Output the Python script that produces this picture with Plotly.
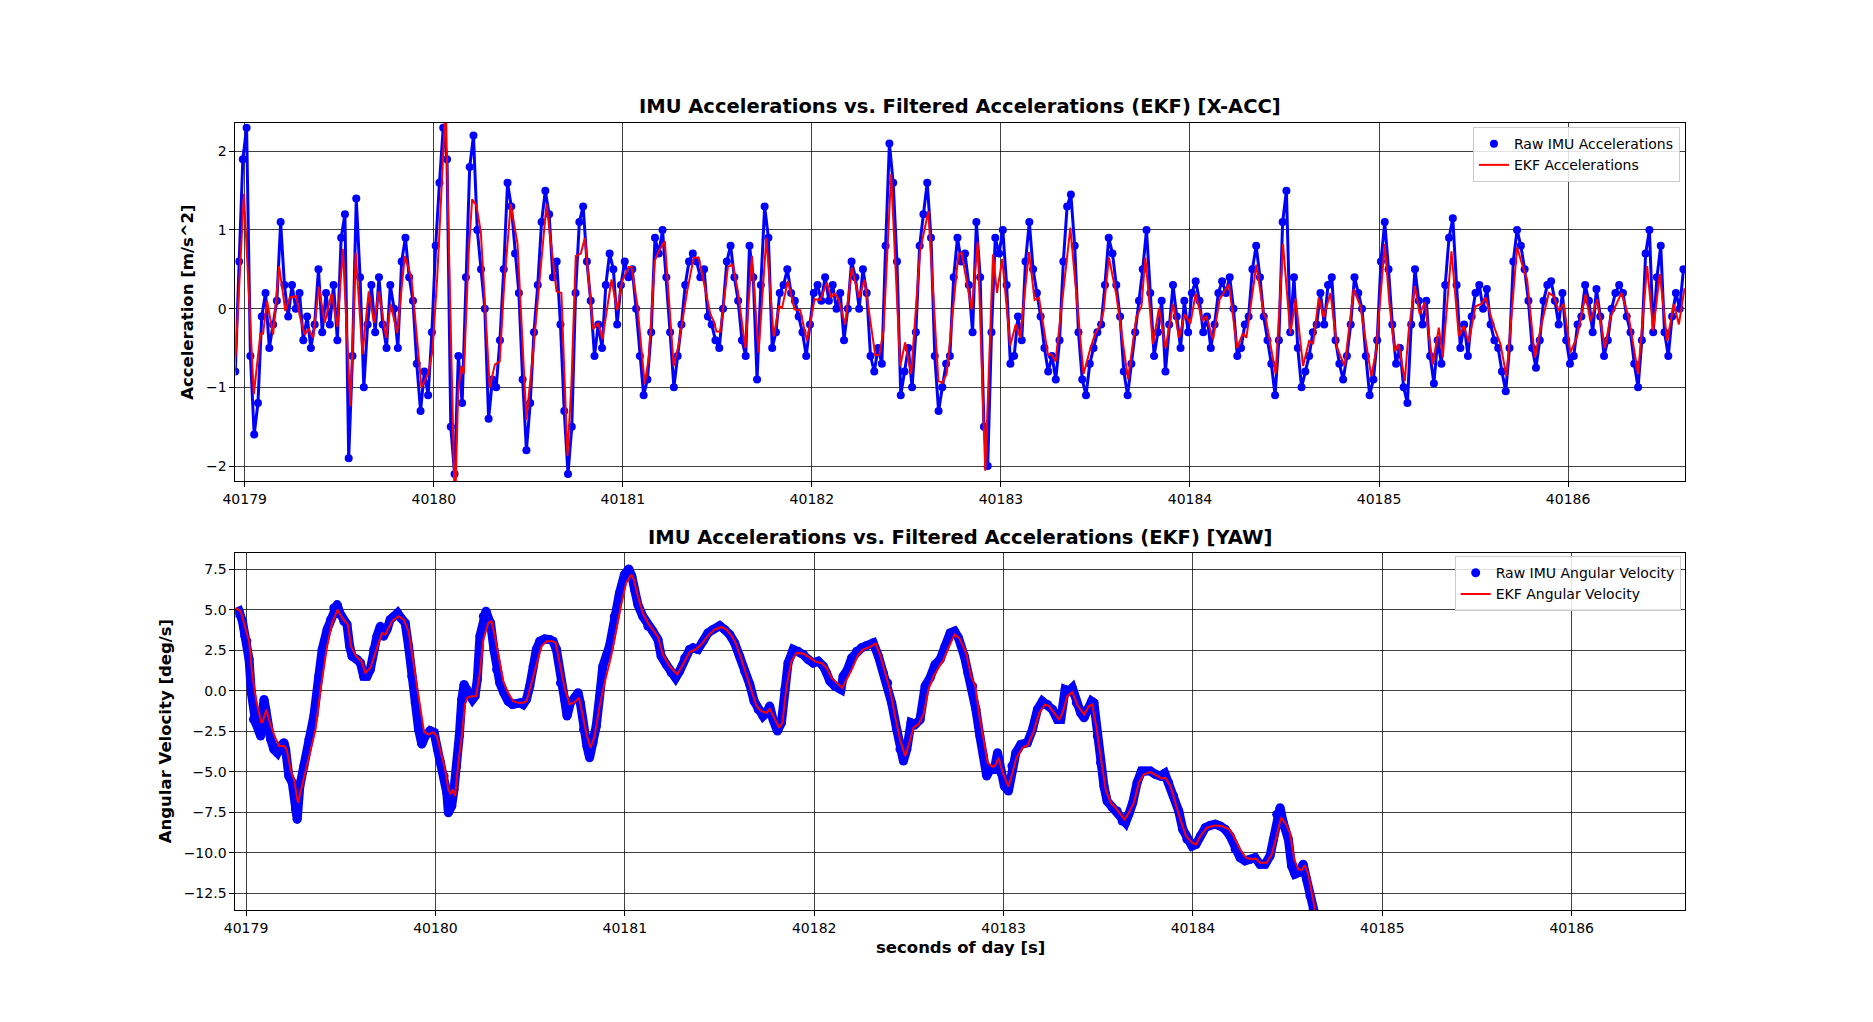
import numpy as np
import plotly.graph_objects as go

# ---- X-ACC panel ----
# raw IMU x-acceleration, sampled every 0.02 s starting at acc_raw_t0
acc_raw_t0 = 40178.95
acc_raw_dt = 0.02
acc_raw = [
    -0.8, 0.6, 1.9, 2.3, -0.6, -1.6, -1.2, -0.1, 0.2, -0.5,
    -0.2, 0.1, 1.1, 0.3, -0.1, 0.3, 0.0, 0.2, -0.4, -0.1,
    -0.5, -0.2, 0.5, -0.3, 0.2, -0.2, 0.3, -0.4, 0.9, 1.2,
    -1.9, -0.6, 1.4, 0.4, -1.0, -0.2, 0.3, -0.3, 0.4, -0.2,
    -0.5, 0.3, 0.0, -0.5, 0.6, 0.9, 0.4, 0.1, -0.7, -1.3,
    -0.8, -1.1, -0.3, 0.8, 1.6, 2.3, 1.9, -1.5, -2.1, -0.6,
    -1.2, 0.4, 1.8, 2.2, 1.0, 0.5, 0.0, -1.4, -0.9, -1.0,
    -0.4, 0.5, 1.6, 1.3, 0.7, 0.2, -0.9, -1.8, -1.2, -0.3,
    0.3, 1.1, 1.5, 1.2, 0.4, 0.6, -0.2, -1.3, -2.1, -1.5,
    0.2, 1.1, 1.3, 0.6, 0.1, -0.6, -0.2, -0.5, 0.3, 0.7,
    0.5, -0.2, 0.3, 0.6, 0.4, 0.5, 0.0, -0.6, -1.1, -0.9,
    -0.3, 0.9, 0.7, 1.0, 0.4, -0.3, -1.0, -0.6, -0.2, 0.3,
    0.6, 0.7, 0.6, 0.4, 0.5, -0.1, -0.2, -0.4, -0.5, 0.0,
    0.6, 0.8, 0.4, 0.1, -0.4, -0.6, 0.8, 0.4, -0.9, 0.3,
    1.3, 0.9, -0.5, -0.3, 0.2, 0.3, 0.5, 0.2, 0.1, -0.1,
    -0.3, -0.6, -0.2, 0.2, 0.3, 0.1, 0.4, 0.1, 0.3, 0.0,
    0.2, -0.4, 0.0, 0.6, 0.4, 0.0, 0.5, 0.2, -0.6, -0.8,
    -0.5, -0.7, 0.8, 2.1, 1.6, 0.6, -1.1, -0.8, -0.5, -1.0,
    -0.3, 0.8, 1.2, 1.6, 0.9, -0.6, -1.3, -1.0, -0.7, -0.6,
    0.4, 0.9, 0.6, 0.7, 0.3, -0.3, 1.1, 0.4, -1.5, -2.0,
    -0.3, 0.9, 0.7, 1.0, 0.3, -0.7, -0.6, -0.1, -0.4, 0.6,
    1.1, 0.5, 0.2, -0.1, -0.5, -0.8, -0.6, -0.9, -0.4, 0.6,
    1.3, 1.45, 0.8, -0.3, -0.9, -1.1, -0.7, -0.5, -0.3, -0.2,
    0.3, 0.9, 0.7, 0.3, -0.1, -0.8, -1.1, -0.7, -0.3, 0.1,
    0.5, 1.0, 0.2, -0.6, -0.3, 0.1, -0.8, -0.2, 0.3, -0.1,
    -0.5, 0.1, -0.3, 0.2, 0.35, 0.1, -0.3, -0.1, -0.5, -0.2,
    0.2, 0.35, 0.2, 0.4, 0.0, -0.6, -0.5, -0.2, -0.1, 0.5,
    0.8, 0.4, -0.1, -0.4, -0.7, -1.1, -0.4, 1.1, 1.5, -0.3,
    0.4, -0.5, -1.0, -0.8, -0.6, -0.3, -0.2, 0.2, -0.2, 0.3,
    0.4, -0.4, -0.7, -0.9, -0.6, -0.2, 0.4, 0.2, 0.0, -0.6,
    -1.1, -0.9, -0.4, 0.6, 1.1, 0.5, -0.2, -0.7, -0.5, -1.0,
    -1.2, -0.2, 0.5, 0.1, -0.2, 0.1, -0.6, -0.95, -0.4, -0.7,
    0.3, 0.9, 1.15, 0.3, -0.5, -0.2, -0.6, -0.1, 0.2, 0.3,
    0.0, 0.25, -0.2, -0.4, -0.5, -0.8, -1.05, -0.5, 0.6, 1.0,
    0.8, 0.5, 0.1, -0.5, -0.75, -0.4, 0.1, 0.3, 0.35, 0.1,
    -0.2, 0.2, -0.4, -0.7, -0.6, -0.2, -0.1, 0.3, 0.1, -0.3,
    0.25, -0.1, -0.6, -0.4, 0.0, 0.2, 0.3, 0.2, -0.1, -0.3,
    -0.7, -1.0, -0.4, 0.7, 1.0, -0.3, 0.4, 0.8, -0.3, -0.6,
    -0.1, 0.2, 0.0, 0.5,
]

# EKF filtered x-acceleration (time, value)
acc_ekf_t = [
    40178.951, 40178.996, 40179.048, 40179.083, 40179.097, 40179.118, 40179.150, 40179.182, 40179.215, 40179.238,
    40179.273, 40179.291, 40179.317, 40179.339, 40179.362, 40179.392, 40179.423, 40179.459, 40179.490, 40179.519,
    40179.559, 40179.587, 40179.623, 40179.656, 40179.684, 40179.709, 40179.748, 40179.772, 40179.806, 40179.847,
    40179.882, 40179.935, 40179.970, 40179.993, 40180.018, 40180.063, 40180.112, 40180.129, 40180.146, 40180.159,
    40180.185, 40180.203, 40180.226, 40180.249, 40180.296, 40180.323, 40180.349, 40180.372, 40180.407, 40180.443,
    40180.490, 40180.526, 40180.596, 40180.649, 40180.675, 40180.707, 40180.728, 40180.751, 40180.778, 40180.799,
    40180.843, 40180.869, 40180.892, 40180.940, 40180.970, 40180.996, 40181.032, 40181.046, 40181.076, 40181.116,
    40181.137, 40181.169, 40181.190, 40181.222, 40181.269, 40181.296, 40181.340, 40181.375, 40181.401, 40181.437,
    40181.463, 40181.481, 40181.495, 40181.516, 40181.556, 40181.581, 40181.609, 40181.648, 40181.683, 40181.718,
    40181.759, 40181.798, 40181.827, 40181.842, 40181.873, 40181.908, 40181.938, 40181.974, 40182.014, 40182.044,
    40182.079, 40182.102, 40182.120, 40182.141, 40182.176, 40182.211, 40182.250, 40182.278, 40182.335, 40182.356,
    40182.379, 40182.419, 40182.467, 40182.493, 40182.525, 40182.572, 40182.616, 40182.669, 40182.690, 40182.713,
    40182.775, 40182.792, 40182.845, 40182.877, 40182.917, 40182.958, 40182.979, 40183.007, 40183.049, 40183.078,
    40183.102, 40183.148, 40183.178, 40183.201, 40183.249, 40183.266, 40183.289, 40183.367, 40183.399, 40183.437,
    40183.469, 40183.496, 40183.522, 40183.543, 40183.571, 40183.610, 40183.672, 40183.716, 40183.743, 40183.764,
    40183.804, 40183.836, 40183.871, 40183.910, 40183.942, 40183.972, 40184.002, 40184.030, 40184.065, 40184.086,
    40184.122, 40184.157, 40184.206, 40184.249, 40184.280, 40184.298, 40184.351, 40184.390, 40184.400, 40184.453,
    40184.492, 40184.531, 40184.559, 40184.598, 40184.630, 40184.651, 40184.681, 40184.707, 40184.743, 40184.778,
    40184.818, 40184.866, 40184.901, 40184.959, 40184.984, 40185.030, 40185.055, 40185.083, 40185.104, 40185.136,
    40185.157, 40185.189, 40185.215, 40185.242, 40185.284, 40185.316, 40185.337, 40185.383, 40185.422, 40185.448,
    40185.474, 40185.510, 40185.541, 40185.563, 40185.607, 40185.642, 40185.674, 40185.730, 40185.757, 40185.783,
    40185.824, 40185.859, 40185.898, 40185.924, 40185.951, 40185.977, 40186.012, 40186.048, 40186.092, 40186.118,
    40186.153, 40186.194, 40186.224, 40186.282, 40186.321, 40186.370, 40186.418, 40186.450, 40186.485, 40186.524,
    40186.559, 40186.586, 40186.616,
]
acc_ekf = [
    -0.62, 1.46, -1.09, -0.32, -0.32, 0.10, -0.33, 0.54, -0.03, 0.14,
    0.16, -0.09, -0.33, -0.26, -0.37, 0.28, -0.18, 0.19, -0.23, 0.76,
    -1.24, 0.71, -0.58, 0.22, -0.18, 0.22, -0.37, 0.06, -0.31, 0.67,
    0.39, -1.00, -0.83, -0.54, 0.39, 2.60, -2.60, -1.05, -0.73, -0.83,
    0.73, 1.39, 1.31, 0.97, -1.00, -0.71, -0.67, 0.29, 1.33, 0.82,
    -1.41, -0.54, 1.33, 0.22, 0.20, -1.87, -0.96, 0.67, 0.70, 0.90,
    -0.26, -0.18, -0.39, 0.37, -0.02, 0.35, 0.53, 0.53, 0.06, -0.96,
    -0.62, 0.61, 0.73, 0.86, -0.73, -0.45, 0.22, 0.65, 0.65, 0.22,
    -0.07, -0.16, -0.29, -0.29, 0.53, 0.56, 0.22, -0.50, 0.67, -0.56,
    0.90, -0.35, 0.03, 0.01, 0.35, -0.01, -0.02, -0.41, 0.12, 0.11,
    0.33, 0.14, 0.19, 0.12, -0.20, 0.52, 0.14, 0.37, -0.59, -0.59,
    -0.28, 1.71, -0.73, -0.43, -0.83, 0.73, 1.24, -0.92, -0.94, -0.83,
    0.69, 0.71, -0.01, 0.85, -2.06, 0.69, 0.20, 0.63, -0.47, -0.20,
    -0.37, 0.72, 0.11, 0.14, -0.59, -0.58, -0.67, 1.03, 0.14, -0.83,
    -0.54, -0.33, -0.22, -0.03, 0.65, 0.18, -0.90, -0.11, 0.03, 0.65,
    -0.45, 0.01, -0.50, 0.06, -0.37, -0.07, -0.19, 0.19, -0.16, -0.09,
    -0.39, 0.12, 0.31, -0.50, -0.31, -0.37, 0.56, -0.07, -0.11, -0.83,
    0.82, -0.32, 0.13, -0.73, -0.41, -0.45, 0.14, -0.11, 0.20, -0.50,
    -0.73, 0.25, 0.03, -0.86, -0.54, 0.82, 0.06, -0.54, -0.45, -0.92,
    -0.28, 0.29, -0.07, 0.08, -0.71, -0.24, -0.62, 0.73, -0.35, -0.22,
    -0.43, 0.03, 0.06, 0.14, -0.22, -0.45, -0.86, 0.78, 0.56, 0.37,
    -0.62, -0.20, 0.20, 0.16, -0.03, 0.06, -0.56, -0.35, 0.18, -0.16,
    0.12, -0.50, -0.11, 0.20, -0.11, -0.83, 0.54, -0.28, 0.44, -0.41,
    0.06, -0.20, 0.26,
]

# ---- YAW panel ----
yaw_raw_t = [
    40178.944, 40178.963, 40178.981, 40178.993, 40179.004, 40179.016, 40179.028, 40179.039, 40179.051, 40179.068,
    40179.077, 40179.086, 40179.095, 40179.104, 40179.116, 40179.130, 40179.147, 40179.165, 40179.182, 40179.200,
    40179.209, 40179.226, 40179.244, 40179.261, 40179.270, 40179.284, 40179.305, 40179.332, 40179.358, 40179.384,
    40179.402, 40179.428, 40179.446, 40179.463, 40179.481, 40179.495, 40179.516, 40179.533, 40179.547, 40179.560,
    40179.586, 40179.604, 40179.621, 40179.639, 40179.656, 40179.674, 40179.691, 40179.709, 40179.726, 40179.744,
    40179.761, 40179.782, 40179.800, 40179.818, 40179.840, 40179.858, 40179.875, 40179.893, 40179.911, 40179.928,
    40179.946, 40179.972, 40179.993, 40180.011, 40180.028, 40180.046, 40180.060, 40180.068, 40180.086, 40180.098,
    40180.112, 40180.126, 40180.139, 40180.151, 40180.165, 40180.182, 40180.196, 40180.209, 40180.221, 40180.235,
    40180.253, 40180.267, 40180.279, 40180.291, 40180.309, 40180.323, 40180.340, 40180.361, 40180.384, 40180.407,
    40180.428, 40180.449, 40180.463, 40180.481, 40180.498, 40180.516, 40180.533, 40180.551, 40180.577, 40180.604,
    40180.621, 40180.639, 40180.660, 40180.682, 40180.695, 40180.712, 40180.735, 40180.753, 40180.765, 40180.782,
    40180.800, 40180.814, 40180.832, 40180.849, 40180.867, 40180.884, 40180.919, 40180.945, 40180.972, 40180.998,
    40181.021, 40181.037, 40181.051, 40181.069, 40181.095, 40181.122, 40181.148, 40181.175, 40181.192, 40181.219,
    40181.245, 40181.268, 40181.289, 40181.316, 40181.342, 40181.360, 40181.386, 40181.413, 40181.439, 40181.466,
    40181.501, 40181.527, 40181.554, 40181.580, 40181.607, 40181.633, 40181.660, 40181.683, 40181.704, 40181.730,
    40181.748, 40181.765, 40181.783, 40181.806, 40181.827, 40181.845, 40181.862, 40181.889, 40181.915, 40181.942,
    40181.968, 40181.995, 40182.021, 40182.048, 40182.065, 40182.083, 40182.109, 40182.141, 40182.153, 40182.176,
    40182.198, 40182.224, 40182.250, 40182.277, 40182.312, 40182.339, 40182.365, 40182.388, 40182.409, 40182.436,
    40182.453, 40182.471, 40182.489, 40182.511, 40182.533, 40182.559, 40182.586, 40182.612, 40182.638, 40182.665,
    40182.691, 40182.718, 40182.741, 40182.762, 40182.793, 40182.811, 40182.837, 40182.854, 40182.875, 40182.893,
    40182.911, 40182.928, 40182.951, 40182.968, 40182.986, 40183.004, 40183.026, 40183.044, 40183.065, 40183.091,
    40183.126, 40183.153, 40183.179, 40183.205, 40183.232, 40183.258, 40183.284, 40183.302, 40183.325, 40183.346,
    40183.363, 40183.384, 40183.407, 40183.425, 40183.442, 40183.465, 40183.477, 40183.495, 40183.512, 40183.530,
    40183.547, 40183.574, 40183.600, 40183.626, 40183.644, 40183.661, 40183.682, 40183.705, 40183.728, 40183.749,
    40183.775, 40183.802, 40183.828, 40183.851, 40183.872, 40183.898, 40183.925, 40183.946, 40183.968, 40183.995,
    40184.016, 40184.039, 40184.065, 40184.091, 40184.118, 40184.144, 40184.170, 40184.196, 40184.223, 40184.249,
    40184.275, 40184.302, 40184.328, 40184.354, 40184.381, 40184.407, 40184.425, 40184.442, 40184.460, 40184.477,
    40184.504, 40184.521, 40184.539, 40184.560, 40184.582, 40184.600, 40184.618, 40184.635, 40184.652,
]
yaw_raw = [
    4.80, 4.91, 4.29, 3.39, 3.08, 1.93, -0.12, -1.77, -1.97, -2.49,
    -2.79, -1.36, -0.53, -1.15, -2.38, -2.99, -3.61, -3.82, -3.41, -3.20,
    -3.61, -5.26, -5.67, -7.31, -7.93, -5.87, -4.64, -2.98, -1.56, 0.90,
    2.55, 3.78, 4.39, 5.11, 5.32, 4.80, 4.29, 4.09, 2.75, 2.14,
    1.93, 1.72, 0.90, 0.90, 1.31, 2.55, 3.37, 3.98, 3.37, 3.78,
    4.39, 4.60, 4.80, 4.49, 4.19, 2.75, 0.90, -0.74, -2.38, -3.29,
    -2.79, -2.46, -2.57, -3.61, -4.43, -5.26, -6.28, -7.52, -7.10, -6.08,
    -4.64, -2.79, -0.53, 0.39, 0.08, -0.33, -0.53, -0.33, 0.70, 3.37,
    4.60, 4.91, 4.49, 4.19, 2.55, 1.31, 0.49, -0.12, -0.64, -0.84,
    -0.78, -0.74, -0.84, -0.53, 0.29, 1.52, 2.55, 3.06, 3.20, 3.16,
    3.06, 2.55, 0.49, -0.53, -1.56, -0.74, -0.43, -0.12, -0.74, -2.38,
    -3.41, -4.13, -3.20, -2.18, -0.33, 1.52, 2.75, 4.60, 6.04, 7.17,
    7.52, 7.06, 6.24, 5.32, 4.60, 3.98, 3.68, 3.16, 2.14, 1.62,
    1.11, 0.80, 1.21, 2.03, 2.55, 2.65, 2.55, 3.06, 3.57, 3.78,
    4.02, 3.78, 3.47, 2.96, 2.14, 1.21, 0.39, -0.64, -1.15, -1.56,
    -1.36, -0.94, -1.77, -2.48, -1.97, 0.08, 1.72, 2.55, 2.44, 2.24,
    1.93, 1.72, 1.83, 1.52, 1.11, 0.60, 0.29, 0.08, 0.90, 1.31,
    2.03, 2.44, 2.65, 2.79, 2.96, 2.14, 1.11, 0.49, -0.74, -2.38,
    -3.61, -4.33, -3.61, -1.97, -2.07, -1.77, 0.29, 0.80, 1.62, 1.93,
    2.75, 3.57, 3.68, 3.27, 2.14, 1.11, 0.29, -1.15, -2.79, -4.02,
    -5.26, -4.85, -4.85, -3.82, -5.05, -5.87, -6.18, -4.64, -3.82, -3.31,
    -3.20, -2.38, -1.15, -0.64, -0.84, -1.15, -1.77, -1.77, 0.08, -0.02,
    0.18, -0.74, -1.36, -1.66, -1.15, -0.64, -0.74, -2.79, -4.43, -5.87,
    -6.80, -7.21, -7.41, -8.03, -8.13, -7.62, -6.90, -5.67, -4.95, -4.95,
    -4.95, -5.15, -5.26, -5.09, -5.67, -6.49, -7.41, -8.54, -9.16, -9.57,
    -9.47, -8.95, -8.44, -8.30, -8.23, -8.34, -8.54, -8.95, -9.77, -10.29,
    -10.49, -10.39, -10.29, -10.70, -10.70, -10.18, -9.16, -7.62, -7.21, -8.13,
    -9.16, -10.80, -11.31, -11.21, -10.70, -11.62, -12.65, -13.47, -14.20,
]

yaw_ekf_t = [
    40178.944, 40178.972, 40178.998, 40179.016, 40179.033, 40179.056, 40179.081, 40179.089, 40179.107, 40179.126,
    40179.147, 40179.174, 40179.200, 40179.214, 40179.235, 40179.253, 40179.274, 40179.296, 40179.332, 40179.367,
    40179.393, 40179.428, 40179.454, 40179.484, 40179.507, 40179.537, 40179.554, 40179.581, 40179.609, 40179.630,
    40179.656, 40179.682, 40179.718, 40179.735, 40179.770, 40179.805, 40179.832, 40179.858, 40179.888, 40179.916,
    40179.940, 40179.963, 40179.989, 40180.007, 40180.028, 40180.051, 40180.068, 40180.081, 40180.091, 40180.104,
    40180.121, 40180.139, 40180.156, 40180.168, 40180.191, 40180.214, 40180.232, 40180.253, 40180.279, 40180.296,
    40180.314, 40180.337, 40180.358, 40180.384, 40180.411, 40180.437, 40180.463, 40180.481, 40180.507, 40180.533,
    40180.560, 40180.586, 40180.618, 40180.635, 40180.656, 40180.682, 40180.709, 40180.735, 40180.758, 40180.779,
    40180.800, 40180.819, 40180.840, 40180.867, 40180.893, 40180.928, 40180.954, 40180.981, 40181.007, 40181.034,
    40181.048, 40181.069, 40181.095, 40181.122, 40181.148, 40181.175, 40181.201, 40181.236, 40181.277, 40181.307,
    40181.342, 40181.377, 40181.404, 40181.439, 40181.474, 40181.510, 40181.536, 40181.563, 40181.589, 40181.616,
    40181.642, 40181.668, 40181.695, 40181.721, 40181.748, 40181.765, 40181.792, 40181.815, 40181.832, 40181.854,
    40181.880, 40181.907, 40181.942, 40181.977, 40182.012, 40182.039, 40182.065, 40182.092, 40182.118, 40182.148,
    40182.171, 40182.198, 40182.233, 40182.259, 40182.295, 40182.325, 40182.347, 40182.374, 40182.400, 40182.427,
    40182.453, 40182.480, 40182.497, 40182.524, 40182.550, 40182.577, 40182.603, 40182.630, 40182.656, 40182.683,
    40182.709, 40182.741, 40182.766, 40182.802, 40182.828, 40182.851, 40182.872, 40182.893, 40182.916, 40182.942,
    40182.956, 40182.974, 40182.995, 40183.026, 40183.047, 40183.068, 40183.100, 40183.126, 40183.156, 40183.188,
    40183.219, 40183.240, 40183.267, 40183.293, 40183.311, 40183.337, 40183.363, 40183.389, 40183.425, 40183.451,
    40183.468, 40183.489, 40183.512, 40183.539, 40183.565, 40183.591, 40183.618, 40183.639, 40183.661, 40183.688,
    40183.714, 40183.740, 40183.775, 40183.811, 40183.837, 40183.854, 40183.881, 40183.907, 40183.933, 40183.963,
    40183.995, 40184.016, 40184.039, 40184.074, 40184.118, 40184.153, 40184.191, 40184.214, 40184.249, 40184.279,
    40184.311, 40184.333, 40184.354, 40184.389, 40184.416, 40184.442, 40184.465, 40184.486, 40184.512, 40184.535,
    40184.556, 40184.574, 40184.591, 40184.609, 40184.626, 40184.644, 40184.658,
]
yaw_ekf = [
    5.11, 4.91, 3.78, 3.06, 0.90, -0.74, -1.97, -1.87, -1.15, -1.97,
    -2.69, -3.41, -3.41, -3.61, -4.85, -5.46, -6.90, -5.87, -4.02, -2.38,
    0.08, 2.75, 4.19, 5.01, 4.50, 4.09, 2.75, 2.14, 1.83, 1.11,
    1.42, 2.34, 3.57, 3.47, 4.29, 4.60, 4.39, 3.68, 1.31, -0.74,
    -2.55, -2.69, -2.55, -2.79, -3.72, -4.85, -6.08, -6.39, -6.08, -6.49,
    -4.44, -2.79, -0.84, -0.43, -0.33, -0.33, 0.90, 3.16, 4.19, 4.29,
    3.37, 1.93, 0.60, -0.12, -0.64, -0.74, -0.74, -0.64, 0.49, 1.62,
    2.75, 3.06, 3.06, 2.96, 1.72, 0.18, -0.84, -0.70, -0.43, -1.56,
    -2.79, -3.51, -2.79, -0.94, 0.49, 2.14, 3.78, 5.32, 6.65, 7.17,
    6.86, 5.83, 4.80, 4.19, 3.78, 3.33, 2.24, 1.52, 1.01, 1.62,
    2.38, 2.59, 2.85, 3.41, 3.78, 3.94, 3.78, 3.41, 2.85, 1.93,
    1.01, 0.08, -0.94, -1.25, -1.36, -1.11, -1.77, -2.28, -1.97, 0.29,
    1.83, 2.34, 2.30, 2.03, 1.77, 1.72, 1.42, 0.80, 0.49, 0.18,
    0.70, 1.31, 2.24, 2.55, 2.71, 2.92, 2.24, 1.11, 0.08, -1.56,
    -3.00, -4.02, -3.41, -2.28, -2.07, -1.46, 0.08, 0.90, 1.42, 1.93,
    2.65, 3.47, 3.27, 2.34, 0.90, 0.29, -1.56, -3.00, -4.44, -4.68,
    -4.60, -4.13, -5.05, -5.91, -5.05, -4.13, -3.51, -3.37, -2.59, -1.36,
    -0.84, -0.94, -1.36, -1.77, -1.36, -0.33, -0.08, -0.84, -1.46, -0.94,
    -0.84, -2.18, -4.02, -6.08, -6.90, -7.21, -7.62, -7.93, -7.52, -6.90,
    -5.67, -5.15, -5.01, -5.26, -5.42, -5.36, -5.87, -6.90, -7.93, -8.95,
    -9.36, -9.47, -8.95, -8.44, -8.30, -8.34, -8.54, -8.95, -9.77, -10.29,
    -10.39, -10.35, -10.60, -10.60, -10.08, -8.95, -7.82, -8.13, -8.75, -10.39,
    -11.01, -11.05, -10.76, -11.31, -12.44, -13.47, -14.09,
]

x_ticks = [40179, 40180, 40181, 40182, 40183, 40184, 40185, 40186]
acc_yticks = [-2, -1, 0, 1, 2]
yaw_yticks = [7.5, 5.0, 2.5, 0.0, -2.5, -5.0, -7.5, -10.0, -12.5]

acc_raw_time = acc_raw_t0 + acc_raw_dt * np.arange(len(acc_raw))

BLUE = "#0000ff"
RED = "#ff0000"
FONT = "DejaVu Sans"

# subplot boxes in paper coordinates
X_DOM = [0.1153, 0.8948]
TOP_DOM = [0.5372, 0.8875]
BOT_DOM = [0.1174, 0.4667]

fig = go.Figure()

# thin band joining the raw samples so the dense stream reads as a cloud
fig.add_trace(go.Scatter(
    x=acc_raw_time, y=acc_raw, mode="lines", showlegend=False, hoverinfo="skip",
    line=dict(color=BLUE, width=3),
    xaxis="x", yaxis="y",
))
fig.add_trace(go.Scatter(
    x=acc_raw_time, y=acc_raw, mode="markers", name="Raw IMU Accelerations",
    marker=dict(color=BLUE, size=8, line=dict(width=0)),
    xaxis="x", yaxis="y", legend="legend",
))
fig.add_trace(go.Scatter(
    x=acc_ekf_t, y=acc_ekf, mode="lines", name="EKF Accelerations",
    line=dict(color=RED, width=2),
    xaxis="x", yaxis="y", legend="legend",
))

fig.add_trace(go.Scatter(
    x=yaw_raw_t, y=yaw_raw, mode="lines", showlegend=False, hoverinfo="skip",
    line=dict(color=BLUE, width=9),
    xaxis="x2", yaxis="y2",
))
fig.add_trace(go.Scatter(
    x=yaw_raw_t, y=yaw_raw, mode="markers", name="Raw IMU Angular Velocity",
    marker=dict(color=BLUE, size=9, line=dict(width=0)),
    xaxis="x2", yaxis="y2", legend="legend2",
))
fig.add_trace(go.Scatter(
    x=yaw_ekf_t, y=yaw_ekf, mode="lines", name="EKF Angular Velocity",
    line=dict(color=RED, width=2),
    xaxis="x2", yaxis="y2", legend="legend2",
))

axis_common = dict(
    showline=True, linecolor="black", linewidth=1.2, mirror=True,
    ticks="outside", ticklen=5, tickcolor="black", tickwidth=1,
    showgrid=True, gridcolor="rgba(0,0,0,0.75)", gridwidth=1,
    zeroline=False, tickfont=dict(family=FONT, size=14, color="black"),
)

fig.update_layout(
    width=1873, height=1022,
    margin=dict(l=0, r=0, t=0, b=0),
    paper_bgcolor="white", plot_bgcolor="white",
    font=dict(family=FONT, color="black"),
    xaxis=dict(domain=X_DOM, anchor="y", range=[40178.951, 40186.62],
               tickvals=x_ticks, tickformat="d", **axis_common),
    yaxis=dict(domain=TOP_DOM, anchor="x", range=[-2.19, 2.36],
               tickvals=acc_yticks, **axis_common),
    xaxis2=dict(domain=X_DOM, anchor="y2", range=[40178.944, 40186.60],
                tickvals=x_ticks, tickformat="d", **axis_common),
    yaxis2=dict(domain=BOT_DOM, anchor="x2", range=[-13.52, 8.5],
                tickvals=yaw_yticks, tickformat=".1f", **axis_common),
    legend=dict(x=0.8919, y=0.8835, xanchor="right", yanchor="top",
                bgcolor="rgba(255,255,255,0.85)", bordercolor="#cccccc", borderwidth=1,
                font=dict(family=FONT, size=14), tracegroupgap=0),
    legend2=dict(x=0.8923, y=0.4637, xanchor="right", yanchor="top",
                 bgcolor="rgba(255,255,255,0.85)", bordercolor="#cccccc", borderwidth=1,
                 font=dict(family=FONT, size=14), tracegroupgap=0),
    showlegend=True,
)

title_font = dict(family=FONT, size=19.5, color="black", weight="bold")
label_font = dict(family=FONT, size=16.5, color="black", weight="bold")
mid_x = (X_DOM[0] + X_DOM[1]) / 2

fig.add_annotation(text="IMU Accelerations vs. Filtered Accelerations (EKF) [X-ACC]",
                   xref="paper", yref="paper", x=mid_x, y=0.8908,
                   xanchor="center", yanchor="bottom", showarrow=False, font=title_font)
fig.add_annotation(text="IMU Accelerations vs. Filtered Accelerations (EKF) [YAW]",
                   xref="paper", yref="paper", x=mid_x, y=0.4688,
                   xanchor="center", yanchor="bottom", showarrow=False, font=title_font)
fig.add_annotation(text="Acceleration [m/s^2]", textangle=-90,
                   xref="paper", yref="paper", x=0.0897, y=(TOP_DOM[0] + TOP_DOM[1]) / 2,
                   xanchor="center", yanchor="middle", showarrow=False, font=label_font)
fig.add_annotation(text="Angular Velocity [deg/s]", textangle=-90,
                   xref="paper", yref="paper", x=0.0778, y=(BOT_DOM[0] + BOT_DOM[1]) / 2,
                   xanchor="center", yanchor="middle", showarrow=False, font=label_font)
fig.add_annotation(text="seconds of day [s]",
                   xref="paper", yref="paper", x=mid_x, y=0.0806,
                   xanchor="center", yanchor="middle", showarrow=False, font=label_font)

fig.write_html("out.html")
